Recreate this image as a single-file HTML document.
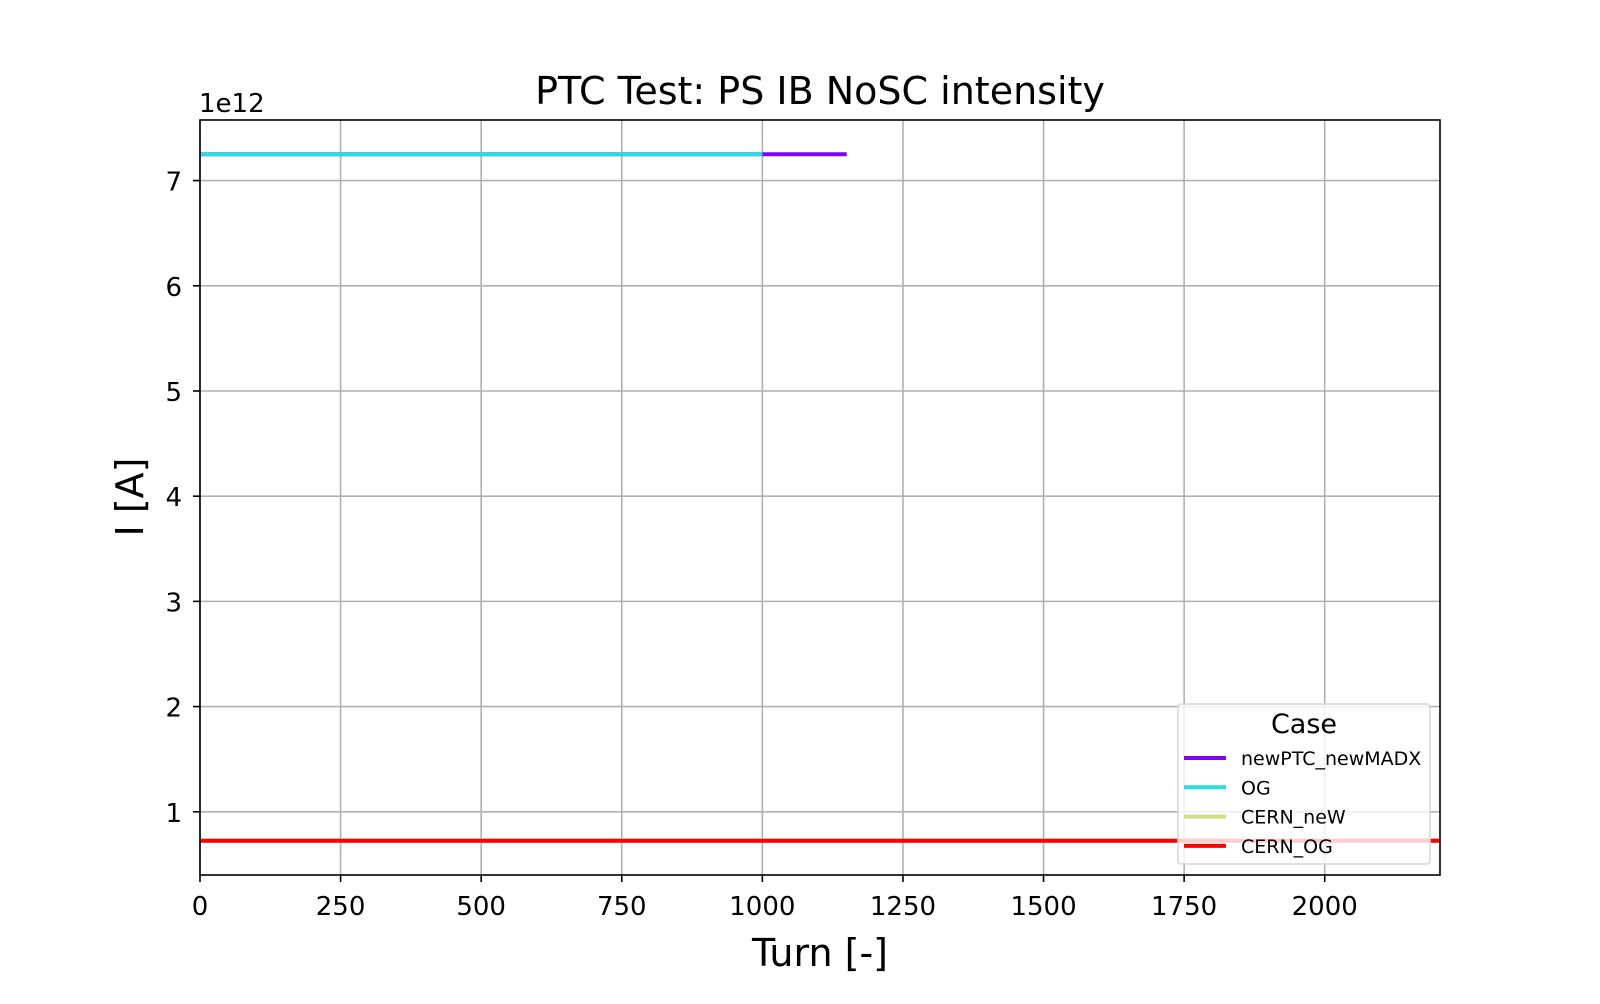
<!DOCTYPE html>
<html><head><meta charset="utf-8"><style>
body{margin:0;background:#fff;font-family:"DejaVu Sans","Liberation Sans",sans-serif;}
svg text{font-family:"DejaVu Sans","Liberation Sans",sans-serif;}
</style></head><body>
<svg id="chart" width="1600" height="1000" xmlns="http://www.w3.org/2000/svg">
<rect width="1600" height="1000" fill="#fff"/>
<g id="grid"></g>
<g id="series"></g>
<rect x="200" y="120" width="1240" height="755" fill="none" stroke="#000" stroke-width="1.6"/>
<g id="ticks"></g>
<text x="820" y="104" font-size="38" text-anchor="middle">PTC Test: PS IB NoSC intensity</text>
<text x="199" y="112" font-size="26">1e12</text>
<text x="820" y="966" font-size="38" text-anchor="middle">Turn [-]</text>
<text x="0" y="0" font-size="38" text-anchor="middle" transform="translate(143,497) rotate(-90)">I [A]</text>
<g>
<rect x="1178" y="704" width="252" height="160" rx="3" fill="#fff" fill-opacity="0.8" stroke="#d6d6d6" stroke-width="1.5"/>
<text x="1304" y="733" font-size="27" text-anchor="middle">Case</text>
<g id="legend-entries"></g>
</g>
</svg>
<script>
const xTicks=[0,250,500,750,1000,1250,1500,1750,2000];
const yTicks=[1,2,3,4,5,6,7];
const seriesNames=["newPTC_newMADX","OG","CERN_neW","CERN_OG"];
const seriesColors=["#8000ff","#2adddd","#d4dd80","#ff0000"];
const seriesStart=[0,0,0,0];
const seriesEnd=[1150,1000,2205,2205];
const seriesValue=[7.25,7.25,0.725,0.725];
const drawOrder=[0,1,2,3];
const X0=0,X1=2205,Y0=0.399,Y1=7.576,L=200,R=1440,T=120,B=875;
const sx=v=>L+(v-X0)/(X1-X0)*(R-L);
const sy=v=>B-(v-Y0)/(Y1-Y0)*(B-T);
const NS="http://www.w3.org/2000/svg";
function mk(tag,attrs,parent){const e=document.createElementNS(NS,tag);for(const k in attrs)e.setAttribute(k,attrs[k]);parent.appendChild(e);return e;}
const grid=document.getElementById('grid'),ticks=document.getElementById('ticks'),ser=document.getElementById('series');
xTicks.forEach(v=>{const x=sx(v);
 const g=mk('line',{x1:x,x2:x,y1:T,y2:B,stroke:'#b0b0b0','stroke-width':1.6},grid);
 
 
 const t=mk('line',{x1:x,x2:x,y1:B,y2:B+7,stroke:'#000','stroke-width':1.6},ticks);
 
 
 const l=mk('text',{x:x,y:B+40,'font-size':26,'text-anchor':'middle'},ticks);l.textContent=v;
 
 
});
yTicks.forEach(v=>{const y=sy(v);
 const g=mk('line',{x1:L,x2:R,y1:y,y2:y,stroke:'#b0b0b0','stroke-width':1.6},grid);
 
 
 const t=mk('line',{x1:L-7,x2:L,y1:y,y2:y,stroke:'#000','stroke-width':1.6},ticks);
 
 
 const l=mk('text',{x:L-18,y:y+10,'font-size':26,'text-anchor':'end'},ticks);l.textContent=v;
 
 
});
drawOrder.forEach(i=>{
 const ln=mk('line',{x1:sx(seriesStart[i]),x2:Math.min(R,sx(seriesEnd[i])),y1:sy(seriesValue[i]),y2:sy(seriesValue[i]),stroke:seriesColors[i],'stroke-width':4},ser);
 
 
});
const le=document.getElementById('legend-entries');
seriesNames.forEach((n,i)=>{const y=758+i*29.3;
 const h=mk('line',{x1:1184,x2:1226,y1:y,y2:y,stroke:seriesColors[i],'stroke-width':4},le);
 
 
 const t=mk('text',{x:1241,y:y+7,'font-size':19},le);t.textContent=n;
 
 
});
</script>
</body></html>
